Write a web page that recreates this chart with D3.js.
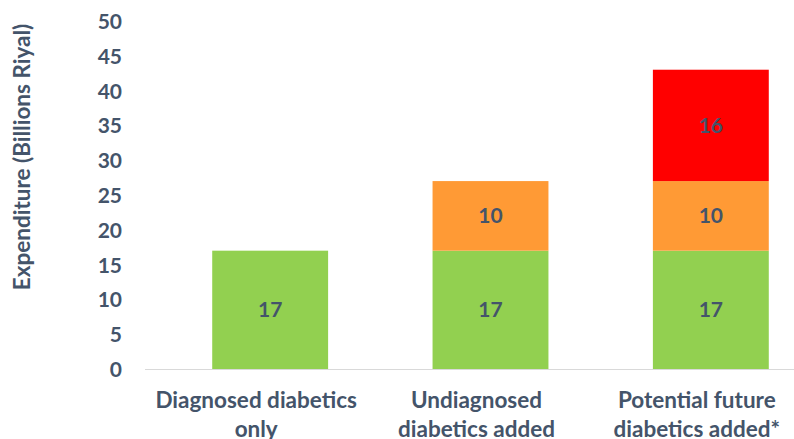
<!DOCTYPE html>
<html>
<head>
<meta charset="utf-8">
<script src="https://cdn.jsdelivr.net/npm/d3@7"></script>
<style>
  body { margin: 0; background: #fff; }
  text { font-family: Lato, "Open Sans", sans-serif; font-weight: bold; fill: #44546A; }
</style>
</head>
<body>
<svg id="chart" width="794" height="439"></svg>
<script>
// data
const categories = [["Diagnosed diabetics", "only"], ["Undiagnosed", "diabetics added"], ["Potential future", "diabetics added*"]];
const seriesNames = ["Diagnosed", "Undiagnosed", "Future"];
const diagnosed = [17, 17, 17];
const undiagnosed = [0, 10, 10];
const future = [0, 0, 16];
const yTicks = [0, 5, 10, 15, 20, 25, 30, 35, 40, 45, 50];
const colors = ["#92D050", "#FF9A35", "#FF0000"];

const svg = d3.select("#chart");

const x = d3.scaleBand().domain(d3.range(categories.length)).range([160, 821]).paddingInner(0.474).paddingOuter(0.237);
const y = d3.scaleLinear().domain([0, 50]).range([369, 21]);

const rows = categories.map((c, i) => ({ i, Diagnosed: diagnosed[i], Undiagnosed: undiagnosed[i], Future: future[i] }));
const stacked = d3.stack().keys(seriesNames)(rows);

// y tick labels (no axis line)
const yAxis = svg.append("g")
    .attr("transform", "translate(130,0)")
    .call(d3.axisLeft(y).tickValues(yTicks).tickSize(0).tickPadding(8));
yAxis.select(".domain").remove();
yAxis.selectAll("text").attr("font-size", 21).attr("fill", "#44546A").attr("font-family", null).attr("dy", "0.36em");

// baseline
svg.append("line")
    .attr("x1", 145).attr("x2", 794)
    .attr("y1", y(0) + 0.5).attr("y2", y(0) + 0.5)
    .attr("stroke", "#D9D9D9").attr("stroke-width", 1);

// bars
const layers = svg.append("g").selectAll("g")
    .data(stacked)
    .join("g")
    .attr("fill", (d, i) => colors[i]);

layers.selectAll("rect")
    .data(d => d.filter(p => p[1] - p[0] > 0))
    .join("rect")
    .attr("x", d => x(d.data.i))
    .attr("y", d => y(d[1]))
    .attr("width", x.bandwidth())
    .attr("height", d => y(d[0]) - y(d[1]));

// value labels
layers.selectAll("text.val")
    .data(d => d.filter(p => p[1] - p[0] > 0))
    .join("text")
    .attr("class", "val")
    .attr("x", d => x(d.data.i) + x.bandwidth() / 2)
    .attr("y", d => y((d[0] + d[1]) / 2))
    .attr("dy", "0.36em")
    .attr("text-anchor", "middle")
    .attr("font-size", 21)
    .text(d => d[1] - d[0]);

// category labels (sit a little left of the bar centres, as in the original)
const cat = svg.append("g").selectAll("text")
    .data(categories)
    .join("text")
    .attr("text-anchor", "middle")
    .attr("font-size", 22.5)
    .attr("x", (d, i) => x(i) + x.bandwidth() / 2 - 14)
    .attr("y", 408);
cat.selectAll("tspan")
    .data(d => d)
    .join("tspan")
    .attr("x", function () { return d3.select(this.parentNode).attr("x"); })
    .attr("dy", (d, i) => i === 0 ? 0 : 29)
    .text(d => d);

// y axis title
svg.append("text")
    .attr("transform", "translate(30,157) rotate(-90)")
    .attr("text-anchor", "middle")
    .attr("font-size", 22.5)
    .text("Expenditure (Billions Riyal)");
</script>
</body>
</html>
